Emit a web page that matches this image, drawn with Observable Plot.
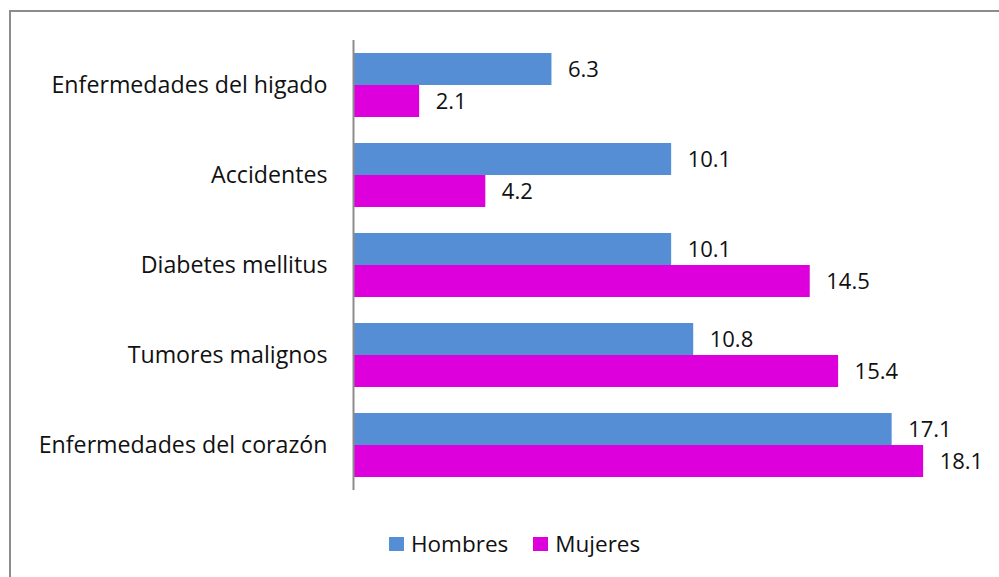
<!DOCTYPE html>
<html>
<head>
<meta charset="utf-8">
<script src="https://cdn.jsdelivr.net/npm/d3@7"></script>
<script src="https://cdn.jsdelivr.net/npm/@observablehq/plot@0.6"></script>
<style>
  html, body { margin: 0; padding: 0; background: #fff; }
  #wrap { position: relative; width: 999px; height: 577px; overflow: hidden; font-family: "Open Sans", sans-serif; }
  #frame { position: absolute; left: 9px; top: 10px; width: 1000px; height: 600px; border-left: 2px solid #8c8c8c; border-top: 2px solid #8c8c8c; }
  #chart { position: absolute; left: 0; top: 0; }
  #legend { position: absolute; top: 528px; left: 389px; display: flex; align-items: center; font-size: 22.5px; color: #111; }
  .sw { width: 15px; height: 14px; display: inline-block; margin-right: 7px; }
  .item { display: flex; align-items: center; margin-right: 25px; }
</style>
</head>
<body>
<div id="wrap">
  <div id="frame"></div>
  <div id="chart"></div>
  <div id="legend"></div>
</div>
<script>
const causes = ["Enfermedades del higado", "Accidentes", "Diabetes mellitus", "Tumores malignos", "Enfermedades del corazón"];
const series = ["Hombres", "Mujeres"];
const hombres = [6.3, 10.1, 10.1, 10.8, 17.1];
const mujeres = [2.1, 4.2, 14.5, 15.4, 18.1];
const colors = ["#558ed5", "#dd00dd"];

const data = [];
causes.forEach((c, i) => {
  data.push({cause: c, sex: series[0], value: hombres[i]});
  data.push({cause: c, sex: series[1], value: mujeres[i]});
});

const chart = Plot.plot({
  width: 999,
  height: 577,
  marginTop: 39,
  marginBottom: 86,
  marginLeft: 353,
  marginRight: 16,
  style: {fontFamily: "Open Sans, sans-serif", background: "transparent", color: "#111"},
  x: {domain: [0, 20], axis: null},
  y: {domain: series, axis: null, paddingInner: 0, paddingOuter: 0.4},
  fy: {domain: causes, padding: 0, label: null},
  color: {domain: series, range: colors},
  marks: [
    Plot.barX(data, {x: "value", y: "sex", fy: "cause", fill: "sex"}),
    Plot.ruleX([0], {stroke: "#8c8c8c", strokeWidth: 2}),
    Plot.text(data, {x: "value", y: "sex", fy: "cause", text: d => d.value.toFixed(1), textAnchor: "start", dx: 16, fontSize: 22, fill: "#111"}),
    Plot.axisFy({anchor: "left", tickSize: 0, tickPadding: 26, label: null, fontSize: 23.2, fill: "#111"})
  ]
});
document.getElementById("chart").appendChild(chart);

const legend = document.getElementById("legend");
series.forEach((s, i) => {
  const it = document.createElement("div");
  it.className = "item";
  const sw = document.createElement("span");
  sw.className = "sw";
  sw.style.background = colors[i];
  it.appendChild(sw);
  it.appendChild(document.createTextNode(s));
  legend.appendChild(it);
});
</script>
</body>
</html>
